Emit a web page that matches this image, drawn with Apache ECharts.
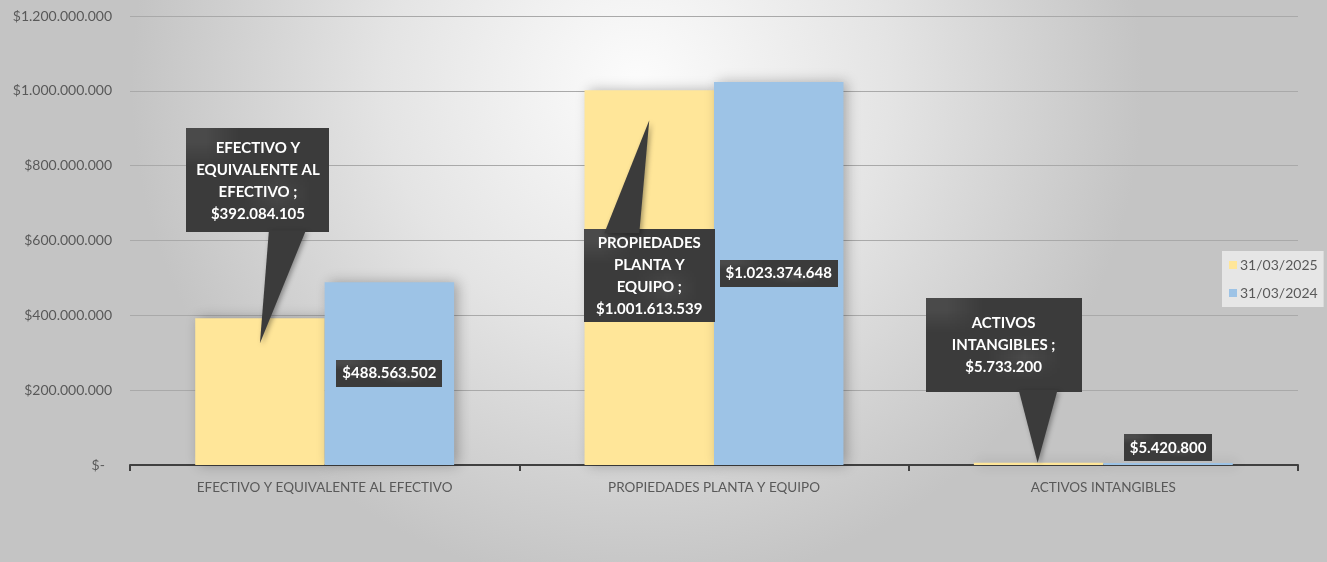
<!DOCTYPE html>
<html>
<head>
<meta charset="utf-8">
<script src="https://cdn.jsdelivr.net/npm/echarts@6/dist/echarts.min.js"></script>
<style>
html,body{margin:0;padding:0;}
#chart{width:1327px;height:562px;}
</style>
</head>
<body>
<div id="chart"></div>
<script>
// ---- data ----
const categories = ['EFECTIVO Y EQUIVALENTE AL EFECTIVO', 'PROPIEDADES PLANTA Y EQUIPO', 'ACTIVOS INTANGIBLES'];
const seriesNames = ['31/03/2025', '31/03/2024'];
const values2025 = [392084105, 1001613539, 5733200];
const values2024 = [488563502, 1023374648, 5420800];
const yMin = 0, yMax = 1200000000, yStep = 200000000;

// ---- styles (label/callout placement relative to each bar) ----
const calloutStyles = [
  { offset: [-2, -86], width: 127, padding: [9, 8, 7, 8], baseDy: -86, baseX: [9, 46], tip: [0, 25] },
  { offset: [0, 232], width: 119, padding: [3, 6, 2, 6], baseDy: 141, baseX: [-45, -10], tip: [0, 30] },
  { offset: [-35, -71], width: 140, padding: [14, 8, 14, 8], baseDy: -71, baseX: [-20, 19], tip: [-1, 0] }
];
const blueLabelPos = ['inside', 'inside', 'top'];

const COL_Y = '#FFE699';
const COL_B = '#9DC3E6';
const CALLOUT = '#3b3b3b';
const FONT = 'Lato, "Liberation Sans", sans-serif';

function money(v) {
  return '$' + String(Math.round(v)).replace(/\B(?=(\d{3})+(?!\d))/g, '.');
}
function wrap(text, maxChars) {
  const words = text.split(' ');
  const lines = [];
  let cur = '';
  words.forEach(w => {
    if (!cur) cur = w;
    else if ((cur + ' ' + w).length <= maxChars) cur += ' ' + w;
    else { lines.push(cur); cur = w; }
  });
  if (cur) lines.push(cur);
  return lines.join('\n');
}

// textured dark background for callouts
const pat = document.createElement('canvas');
pat.width = 4; pat.height = 4;
(function () {
  const c = pat.getContext('2d');
  c.fillStyle = CALLOUT; c.fillRect(0, 0, 4, 4);
  c.fillStyle = '#4a4a4a'; c.fillRect(0, 0, 1, 1); c.fillRect(2, 2, 1, 1);
})();

const chart = echarts.init(document.getElementById('chart'));

const labelShadow = { shadowColor: 'rgba(0,0,0,0.45)', shadowBlur: 6, shadowOffsetX: 2, shadowOffsetY: 2 };

const data2025 = values2025.map((v, i) => ({
  value: v,
  label: Object.assign({
    show: true,
    position: 'top',
    distance: 0,
    offset: calloutStyles[i].offset,
    width: calloutStyles[i].width,
    padding: calloutStyles[i].padding,
    align: 'center',
    backgroundColor: { image: pat, repeat: 'repeat' },
    color: '#ffffff',
    fontFamily: FONT,
    fontWeight: 'bold',
    fontSize: 15,
    lineHeight: 22,
    formatter: () => wrap(categories[i] + ' ;', 14) + '\n' + money(v)
  }, labelShadow)
}));

const data2024 = values2024.map((v, i) => ({
  value: v,
  label: Object.assign({
    show: true,
    position: blueLabelPos[i],
    distance: 2,
    padding: [5, 6, 4, 6],
    backgroundColor: { image: pat, repeat: 'repeat' },
    color: '#ffffff',
    fontFamily: FONT,
    fontWeight: 'bold',
    fontSize: 15,
    lineHeight: 18,
    formatter: () => money(v)
  }, labelShadow)
}));

const barShadow = { shadowColor: 'rgba(0,0,0,0.28)', shadowBlur: 12, shadowOffsetX: 4, shadowOffsetY: 0 };

chart.setOption({
  animation: false,
  backgroundColor: {
    type: 'radial', x: 0.48, y: 0.15, r: 0.9,
    colorStops: [{ offset: 0, color: '#fcfcfc' }, { offset: 0.5, color: '#e4e4e4' }, { offset: 1, color: '#c4c4c4' }]
  },
  textStyle: { fontFamily: FONT },
  grid: { left: 130, right: 29, top: 16, bottom: 97 },
  legend: {
    orient: 'vertical',
    left: 1222, top: 251,
    padding: [7, 6, 7, 7],
    backgroundColor: 'rgba(236,236,236,0.85)',
    itemWidth: 8, itemHeight: 8, itemGap: 14,
    icon: 'rect',
    textStyle: { color: '#595959', fontSize: 14, fontFamily: FONT, padding: [0, 0, 0, -2] },
    data: seriesNames
  },
  xAxis: {
    type: 'category',
    data: categories,
    axisLine: { lineStyle: { color: '#404040', width: 2 } },
    axisTick: { show: true, length: 6, lineStyle: { color: '#404040', width: 2 } },
    axisLabel: { color: '#595959', fontSize: 13.5, margin: 16, fontFamily: FONT }
  },
  yAxis: {
    type: 'value',
    min: yMin, max: yMax, interval: yStep,
    axisLine: { show: false },
    axisTick: { show: false },
    splitLine: { lineStyle: { color: '#a9a9a9', width: 1 } },
    axisLabel: {
      color: '#595959', fontSize: 14, margin: 18, fontFamily: FONT,
      formatter: v => v === 0 ? '$-  ' : money(v)
    }
  },
  series: [
    {
      name: seriesNames[0], type: 'bar', data: data2025,
      barGap: '0%', barCategoryGap: '33.5%',
      itemStyle: Object.assign({ color: COL_Y }, barShadow)
    },
    {
      name: seriesNames[1], type: 'bar', data: data2024,
      itemStyle: Object.assign({ color: COL_B }, barShadow)
    }
  ]
});

// pointers of the callouts, placed from the library's bar layout
function drawPointers() {
  const sData = chart.getModel().getSeriesByIndex(0).getData();
  const elements = [];
  values2025.forEach((v, i) => {
    const lay = sData.getItemLayout(i);
    const cx = lay.x + lay.width / 2;
    const top = lay.y + lay.height;
    const st = calloutStyles[i];
    const by = top + st.baseDy + (st.baseDy < 0 ? -2 : 2);
    elements.push({
      type: 'polygon', z: 5, silent: true,
      shape: { points: [[cx + st.baseX[0], by], [cx + st.baseX[1], by], [cx + st.tip[0], top + st.tip[1]]] },
      style: { fill: CALLOUT, shadowColor: 'rgba(0,0,0,0.35)', shadowBlur: 5, shadowOffsetX: 2, shadowOffsetY: 2 }
    });
  });
  chart.setOption({ graphic: { elements: elements } });
}
drawPointers();
</script>
</body>
</html>
